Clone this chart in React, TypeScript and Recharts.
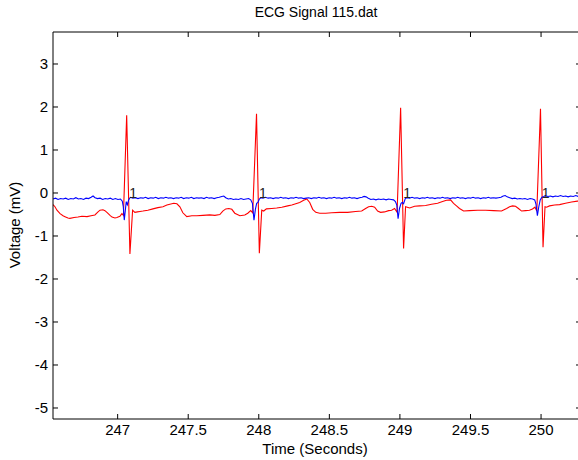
import React from 'react';
import { ComposedChart, Line, XAxis, YAxis, ReferenceDot } from 'recharts';

// channel 1 (red) - time in seconds, voltage in mV
const redTime = [
  246.542, 246.556, 246.570, 246.592, 246.613, 246.627, 246.648, 246.662, 246.691, 246.719,
  246.747, 246.783, 246.811, 246.839, 246.861, 246.875, 246.896, 246.910, 246.924, 246.946,
  246.960, 246.981, 246.995, 247.016, 247.030, 247.041, 247.064, 247.087, 247.106, 247.122,
  247.140, 247.158, 247.179, 247.214, 247.250, 247.285, 247.321, 247.349, 247.370, 247.398,
  247.420, 247.441, 247.462, 247.490, 247.526, 247.561, 247.604, 247.653, 247.689, 247.724,
  247.745, 247.766, 247.788, 247.809, 247.830, 247.866, 247.901, 247.922, 247.943, 247.957,
  247.984, 248.004, 248.021, 248.035, 248.054, 248.092, 248.127, 248.163, 248.205, 248.234,
  248.262, 248.290, 248.318, 248.340, 248.361, 248.382, 248.404, 248.432, 248.474, 248.517,
  248.573, 248.630, 248.686, 248.729, 248.757, 248.778, 248.800, 248.821, 248.842, 248.863,
  248.891, 248.920, 248.941, 248.962, 248.980, 249.005, 249.026, 249.040, 249.069, 249.104,
  249.139, 249.182, 249.224, 249.267, 249.302, 249.330, 249.359, 249.380, 249.401, 249.422,
  249.451, 249.493, 249.550, 249.607, 249.664, 249.720, 249.756, 249.777, 249.798, 249.819,
  249.840, 249.862, 249.890, 249.918, 249.939, 249.957, 249.970, 249.996, 250.014, 250.028,
  250.039, 250.060, 250.096, 250.131, 250.173, 250.216, 250.258, 250.286,
];
const redMv = [
  -0.27, -0.32, -0.40, -0.48, -0.53, -0.55, -0.58, -0.59, -0.57, -0.56,
  -0.54, -0.55, -0.53, -0.51, -0.44, -0.40, -0.39, -0.41, -0.45, -0.52,
  -0.56, -0.58, -0.57, -0.54, -0.48, -0.52, 1.81, -1.42, -0.40, -0.45,
  -0.44, -0.43, -0.42, -0.40, -0.37, -0.34, -0.32, -0.28, -0.26, -0.24,
  -0.25, -0.32, -0.46, -0.55, -0.53, -0.53, -0.52, -0.51, -0.52, -0.50,
  -0.42, -0.37, -0.36, -0.38, -0.47, -0.53, -0.51, -0.47, -0.41, -0.46,
  1.84, -1.40, -0.40, -0.42, -0.37, -0.36, -0.35, -0.33, -0.30, -0.28,
  -0.25, -0.22, -0.17, -0.14, -0.22, -0.38, -0.45, -0.47, -0.47, -0.46,
  -0.45, -0.45, -0.43, -0.42, -0.36, -0.32, -0.31, -0.33, -0.42, -0.45,
  -0.44, -0.41, -0.40, -0.36, -0.45, 1.98, -1.29, -0.32, -0.35, -0.31,
  -0.30, -0.29, -0.26, -0.24, -0.20, -0.17, -0.16, -0.24, -0.30, -0.36,
  -0.42, -0.41, -0.40, -0.40, -0.41, -0.42, -0.36, -0.32, -0.30, -0.31,
  -0.36, -0.42, -0.41, -0.40, -0.37, -0.33, -0.42, 1.96, -1.26, -0.32,
  -0.33, -0.30, -0.28, -0.27, -0.24, -0.21, -0.19, -0.18,
];

// channel 2 (blue)
const blueTime = [
  246.542, 246.560, 246.578, 246.596, 246.614, 246.632, 246.650, 246.668, 246.686, 246.704,
  246.722, 246.740, 246.758, 246.776, 246.794, 246.812, 246.826, 246.840, 246.858, 246.876,
  246.894, 246.912, 246.930, 246.948, 246.966, 246.984, 247.002, 247.020, 247.033, 247.040,
  247.047, 247.054, 247.061, 247.069, 247.078, 247.090, 247.108, 247.126, 247.144, 247.162,
  247.180, 247.198, 247.216, 247.234, 247.252, 247.270, 247.288, 247.306, 247.324, 247.342,
  247.360, 247.378, 247.396, 247.414, 247.432, 247.450, 247.468, 247.486, 247.504, 247.522,
  247.540, 247.558, 247.576, 247.594, 247.612, 247.630, 247.648, 247.666, 247.684, 247.702,
  247.720, 247.738, 247.752, 247.766, 247.784, 247.802, 247.820, 247.838, 247.856, 247.874,
  247.892, 247.910, 247.928, 247.943, 247.955, 247.966, 247.976, 247.985, 247.994, 248.004,
  248.014, 248.030, 248.048, 248.066, 248.084, 248.102, 248.120, 248.138, 248.156, 248.174,
  248.192, 248.210, 248.228, 248.246, 248.264, 248.282, 248.300, 248.318, 248.336, 248.354,
  248.372, 248.390, 248.408, 248.426, 248.444, 248.462, 248.480, 248.498, 248.516, 248.534,
  248.552, 248.570, 248.588, 248.606, 248.624, 248.642, 248.660, 248.678, 248.696, 248.714,
  248.732, 248.746, 248.760, 248.776, 248.794, 248.812, 248.830, 248.848, 248.866, 248.884,
  248.902, 248.920, 248.938, 248.955, 248.968, 248.978, 248.987, 248.997, 249.008, 249.016,
  249.026, 249.038, 249.050, 249.068, 249.086, 249.104, 249.122, 249.140, 249.158, 249.176,
  249.194, 249.212, 249.230, 249.248, 249.266, 249.284, 249.302, 249.320, 249.338, 249.356,
  249.374, 249.392, 249.410, 249.428, 249.446, 249.464, 249.482, 249.500, 249.518, 249.536,
  249.554, 249.572, 249.590, 249.608, 249.626, 249.644, 249.662, 249.680, 249.698, 249.716,
  249.732, 249.746, 249.760, 249.778, 249.796, 249.814, 249.832, 249.850, 249.868, 249.886,
  249.904, 249.922, 249.940, 249.955, 249.964, 249.974, 249.984, 249.994, 250.006, 250.020,
  250.030, 250.048, 250.066, 250.084, 250.102, 250.120, 250.138, 250.156, 250.174, 250.192,
  250.210, 250.228, 250.246, 250.264, 250.286,
];
const blueMv = [
  -0.14, -0.12, -0.15, -0.13, -0.14, -0.12, -0.15, -0.13, -0.14, -0.11,
  -0.14, -0.13, -0.15, -0.12, -0.13, -0.10, -0.07, -0.11, -0.13, -0.12,
  -0.15, -0.13, -0.14, -0.12, -0.15, -0.13, -0.15, -0.14, -0.19, -0.32,
  -0.63, -0.42, -0.20, -0.27, -0.16, -0.10, -0.12, -0.11, -0.13, -0.11,
  -0.12, -0.10, -0.13, -0.11, -0.12, -0.10, -0.13, -0.11, -0.12, -0.10,
  -0.12, -0.11, -0.13, -0.11, -0.12, -0.10, -0.13, -0.11, -0.12, -0.10,
  -0.13, -0.11, -0.12, -0.11, -0.13, -0.10, -0.12, -0.11, -0.13, -0.11,
  -0.10, -0.08, -0.07, -0.11, -0.14, -0.13, -0.15, -0.14, -0.15, -0.13,
  -0.15, -0.14, -0.13, -0.16, -0.24, -0.63, -0.38, -0.24, -0.22, -0.14,
  -0.11, -0.12, -0.10, -0.12, -0.11, -0.13, -0.11, -0.12, -0.10, -0.12,
  -0.11, -0.13, -0.11, -0.12, -0.10, -0.12, -0.11, -0.13, -0.12, -0.11,
  -0.13, -0.11, -0.12, -0.10, -0.12, -0.11, -0.13, -0.11, -0.12, -0.10,
  -0.12, -0.11, -0.13, -0.11, -0.12, -0.10, -0.12, -0.11, -0.13, -0.11,
  -0.10, -0.08, -0.09, -0.12, -0.15, -0.14, -0.16, -0.14, -0.15, -0.14,
  -0.16, -0.14, -0.15, -0.16, -0.20, -0.28, -0.60, -0.36, -0.24, -0.22,
  -0.25, -0.13, -0.11, -0.12, -0.10, -0.12, -0.11, -0.13, -0.11, -0.12,
  -0.10, -0.12, -0.11, -0.13, -0.11, -0.12, -0.10, -0.12, -0.11, -0.13,
  -0.11, -0.12, -0.10, -0.12, -0.11, -0.13, -0.11, -0.12, -0.10, -0.12,
  -0.11, -0.13, -0.11, -0.12, -0.10, -0.12, -0.11, -0.12, -0.11, -0.10,
  -0.07, -0.06, -0.09, -0.11, -0.13, -0.12, -0.14, -0.13, -0.14, -0.13,
  -0.15, -0.13, -0.14, -0.16, -0.26, -0.53, -0.32, -0.16, -0.10, -0.08,
  -0.06, -0.08, -0.07, -0.09, -0.07, -0.08, -0.06, -0.08, -0.07, -0.09,
  -0.07, -0.08, -0.06, -0.08, -0.07,
];

// beat annotations
const beatTime = [247.082, 248.002, 249.023, 250.005];
const beatCode = ['1', '1', '1', '1'];

const xTicks = [247, 247.5, 248, 248.5, 249, 249.5, 250];
const yTicks = [-5, -4, -3, -2, -1, 0, 1, 2, 3];

const FONT = '"Liberation Sans", Arial, Helvetica, sans-serif';

const redData = redTime.map((t, i) => ({ t, v: redMv[i] }));
const blueData = blueTime.map((t, i) => ({ t, v: blueMv[i] }));

const BottomTick = (props: any) => {
  const { x, y, payload } = props;
  return (
    <g>
      <line x1={x} y1={y - 16} x2={x} y2={y - 21} stroke="#000" />
      <text x={x} y={y} textAnchor="middle" fontSize={15} fontFamily={FONT} fill="#000">
        {payload.value}
      </text>
    </g>
  );
};

const TopTick = (props: any) => {
  const { x, y } = props;
  return <line x1={x} y1={y} x2={x} y2={y + 5} stroke="#000" />;
};

const LeftTick = (props: any) => {
  const { x, y, payload } = props;
  return (
    <g>
      <line x1={x + 5} y1={y} x2={x + 10} y2={y} stroke="#000" />
      <text x={x} y={y} dy="0.36em" textAnchor="end" fontSize={15} fontFamily={FONT} fill="#000">
        {payload.value}
      </text>
    </g>
  );
};

const RightTick = (props: any) => {
  const { x, y } = props;
  return <line x1={x} y1={y} x2={x - 5} y2={y} stroke="#000" />;
};

const App = () => {
  const xDomain = [246.542, 250.283];
  const yDomain = [-5.256, 3.744];
  return (
    <div style={{ position: 'fixed', left: 0, top: 0, width: 578, height: 460, overflow: 'hidden', background: '#fff' }}>
      <ComposedChart width={582} height={460} margin={{ top: 31, right: 0, bottom: 0, left: 0 }}>
        <XAxis
          dataKey="t"
          type="number"
          domain={xDomain}
          allowDataOverflow
          ticks={xTicks}
          tickSize={0}
          tickMargin={16}
          tickLine={false}
          tick={BottomTick}
          height={41}
          axisLine={{ stroke: '#000' }}
        />
        <XAxis
          xAxisId="top"
          orientation="top"
          dataKey="t"
          type="number"
          domain={xDomain}
          allowDataOverflow
          ticks={xTicks}
          tickSize={0}
          tickMargin={0}
          tickLine={false}
          tick={TopTick}
          height={1}
          axisLine={{ stroke: '#000' }}
        />
        <YAxis
          type="number"
          domain={yDomain}
          allowDataOverflow
          ticks={yTicks}
          tickSize={0}
          tickMargin={5}
          tickLine={false}
          tick={LeftTick}
          width={53}
          axisLine={{ stroke: '#000' }}
        />
        <YAxis
          yAxisId="right"
          orientation="right"
          type="number"
          domain={yDomain}
          allowDataOverflow
          ticks={yTicks}
          tickSize={0}
          tickMargin={0}
          tickLine={false}
          tick={RightTick}
          width={1}
          axisLine={{ stroke: '#000' }}
        />
        <Line
          data={redData}
          dataKey="v"
          type="linear"
          stroke="#ff0000"
          strokeWidth={1.1}
          dot={false}
          activeDot={false}
          isAnimationActive={false}
        />
        <Line
          data={blueData}
          dataKey="v"
          type="linear"
          stroke="#0000ff"
          strokeWidth={1.1}
          dot={false}
          activeDot={false}
          isAnimationActive={false}
        />
        {beatTime.map((t, i) => (
          <ReferenceDot
            key={i}
            x={t}
            y={0}
            r={0}
            ifOverflow="visible"
            shape={(p: any) => (
              <text x={p.cx} y={p.cy} dy="0.36em" fontSize={14} fontFamily={FONT} fill="#222">
                {beatCode[i]}
              </text>
            )}
          />
        ))}
      </ComposedChart>
      <svg width={578} height={460} style={{ position: 'absolute', left: 0, top: 0, pointerEvents: 'none' }}>
        <text x={316} y={17} textAnchor="middle" fontSize={14} fontFamily={FONT} fill="#000">
          ECG Signal 115.dat
        </text>
        <text x={315} y={454} textAnchor="middle" fontSize={15} fontFamily={FONT} fill="#000">
          Time (Seconds)
        </text>
        <text
          x={20}
          y={225}
          textAnchor="middle"
          fontSize={15}
          fontFamily={FONT}
          fill="#000"
          transform="rotate(-90 20 225)"
        >
          Voltage (mV)
        </text>
      </svg>
    </div>
  );
};

export default App;
